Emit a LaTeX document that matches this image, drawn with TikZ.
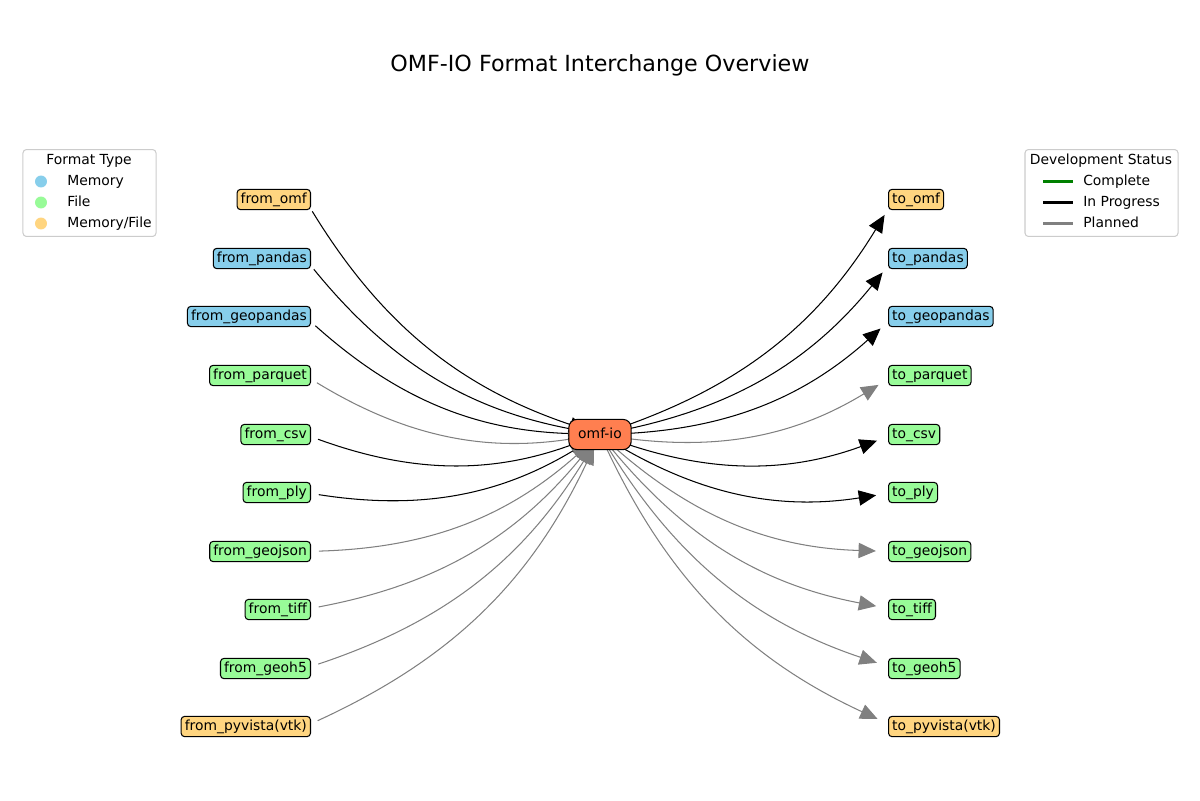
\documentclass[tikz,border=0pt]{standalone}
\usepackage{fontspec}
\setmainfont{DejaVu Sans}
\usetikzlibrary{arrows.meta,backgrounds}
\definecolor{memblue}{HTML}{87CEEB}
\definecolor{filegreen}{HTML}{98FB98}
\definecolor{mixorange}{HTML}{FFD580}
\definecolor{coreorange}{HTML}{FF7F50}
\definecolor{planned}{HTML}{808080}
\definecolor{complete}{HTML}{008000}
\definecolor{legendframe}{HTML}{CCCCCC}

\begin{document}
\begin{tikzpicture}[
    x=0.72pt, y=-0.72pt,
    font=\fontsize{10}{12}\selectfont,
    fmt/.style={rectangle, draw=black, line width=0.75pt, rounded corners=2.5pt, inner xsep=2.6pt, inner ysep=2.4pt, text height=7.6pt, text depth=2.2pt},
    memory/.style={fmt, fill=memblue},
    file/.style={fmt, fill=filegreen},
    mixed/.style={fmt, fill=mixorange},
    core/.style={rectangle, draw=black, line width=0.75pt, fill=coreorange, rounded corners=6pt, inner xsep=6.8pt, inner ysep=6pt, text height=7.6pt, text depth=2.2pt},
    edge/.style={-{Triangle[length=12.5pt,width=11pt]}, line width=0.75pt, bend right=20},
    progress/.style={edge, color=black},
    todo/.style={edge, color=planned},
    inflow/.style={shorten <=10pt, shorten >=10pt},
    outflow/.style={shorten <=10pt, shorten >=13pt},
    legendbox/.style={rectangle, draw=legendframe, fill=white, line width=0.75pt, rounded corners=2.5pt, minimum width=95.8pt, minimum height=62.6pt},
    legendtext/.style={anchor=west, inner sep=0pt, text height=7.6pt, text depth=2.2pt},
    dot/.style={circle, inner sep=0pt, minimum size=8.6pt},
    swatch/.style={line width=1.5pt}
]
\useasboundingbox (0,-1.5) rectangle (1200,798.5);

% === TITLE ===
\node[font=\fontsize{16}{19}\selectfont] (title) at (600,64) {OMF-IO Format Interchange Overview};

% === CORE ===
\node[core] (omf) at (600,433) {omf-io};

% === READERS ===
\node[mixed, anchor=east] (fromomf) at (311,198) {from\_omf};
\node[memory, anchor=east] (frompandas) at (311,257) {from\_pandas};
\node[memory, anchor=east] (fromgeopandas) at (311,315) {from\_geopandas};
\node[file, anchor=east] (fromparquet) at (311,374) {from\_parquet};
\node[file, anchor=east] (fromcsv) at (311,433) {from\_csv};
\node[file, anchor=east] (fromply) at (311,491) {from\_ply};
\node[file, anchor=east] (fromgeojson) at (311,550) {from\_geojson};
\node[file, anchor=east] (fromtiff) at (311,608) {from\_tiff};
\node[file, anchor=east] (fromgeoh5) at (311,667) {from\_geoh5};
\node[mixed, anchor=east] (frompyvista) at (311,725) {from\_pyvista(vtk)};

% === WRITERS ===
\node[mixed, anchor=west] (toomf) at (888,198) {to\_omf};
\node[memory, anchor=west] (topandas) at (888,257) {to\_pandas};
\node[memory, anchor=west] (togeopandas) at (888,315) {to\_geopandas};
\node[file, anchor=west] (toparquet) at (888,374) {to\_parquet};
\node[file, anchor=west] (tocsv) at (888,433) {to\_csv};
\node[file, anchor=west] (toply) at (888,491) {to\_ply};
\node[file, anchor=west] (togeojson) at (888,550) {to\_geojson};
\node[file, anchor=west] (totiff) at (888,608) {to\_tiff};
\node[file, anchor=west] (togeoh5) at (888,667) {to\_geoh5};
\node[mixed, anchor=west] (topyvista) at (888,725) {to\_pyvista(vtk)};

% === CONNECTIONS ===
\begin{pgfonlayer}{background}
% Readers into core
\draw[progress, inflow] ([xshift=-4.3pt]fromomf.east) to (omf.center);
\draw[progress, inflow] ([xshift=-4.3pt]frompandas.east) to (omf.center);
\draw[progress, inflow] ([xshift=-4.3pt]fromgeopandas.east) to (omf.center);
\draw[todo, inflow] ([xshift=-4.3pt]fromparquet.east) to (omf.center);
\draw[progress, inflow] ([xshift=-4.3pt]fromcsv.east) to (omf.center);
\draw[progress, inflow] ([xshift=-4.3pt]fromply.east) to (omf.center);
\draw[todo, inflow] ([xshift=-4.3pt]fromgeojson.east) to (omf.center);
\draw[todo, inflow] ([xshift=-4.3pt]fromtiff.east) to (omf.center);
\draw[todo, inflow] ([xshift=-4.3pt]fromgeoh5.east) to (omf.center);
\draw[todo, inflow] ([xshift=-4.3pt]frompyvista.east) to (omf.center);

% Core out to writers
\draw[progress, outflow] (omf.center) to ([xshift=4.3pt]toomf.west);
\draw[progress, outflow] (omf.center) to ([xshift=4.3pt]topandas.west);
\draw[progress, outflow] (omf.center) to ([xshift=4.3pt]togeopandas.west);
\draw[todo, outflow] (omf.center) to ([xshift=4.3pt]toparquet.west);
\draw[progress, outflow] (omf.center) to ([xshift=4.3pt]tocsv.west);
\draw[progress, outflow] (omf.center) to ([xshift=4.3pt]toply.west);
\draw[todo, outflow] (omf.center) to ([xshift=4.3pt]togeojson.west);
\draw[todo, outflow] (omf.center) to ([xshift=4.3pt]totiff.west);
\draw[todo, outflow] (omf.center) to ([xshift=4.3pt]togeoh5.west);
\draw[todo, outflow] (omf.center) to ([xshift=4.3pt]topyvista.west);
\end{pgfonlayer}

% === LEGENDS ===
\node[legendbox] (typelegend) at (89.5,191.5) {};
\node (typetitle) at (89,159) {Format Type};
\node[dot, fill=memblue] (memdot) at (41,180) {};
\node[legendtext] (memlabel) at (67,180) {Memory};
\node[dot, fill=filegreen] (filedot) at (41,201) {};
\node[legendtext] (filelabel) at (67,201) {File};
\node[dot, fill=mixorange] (mixdot) at (41,222) {};
\node[legendtext] (mixlabel) at (67,222) {Memory/File};

\node[legendbox, minimum width=110.2pt] (statuslegend) at (1101.5,191.5) {};
\node (statustitle) at (1101,159) {Development Status};
\coordinate (doneA) at (1043,180);
\coordinate (doneB) at (1073,180);
\draw[swatch, complete] (doneA) -- (doneB);
\node[legendtext] (donelabel) at (1083,180) {Complete};
\coordinate (progA) at (1043,201);
\coordinate (progB) at (1073,201);
\draw[swatch, black] (progA) -- (progB);
\node[legendtext] (proglabel) at (1083,201) {In Progress};
\coordinate (planA) at (1043,222);
\coordinate (planB) at (1073,222);
\draw[swatch, planned] (planA) -- (planB);
\node[legendtext] (planlabel) at (1083,222) {Planned};

\end{tikzpicture}
\end{document}
